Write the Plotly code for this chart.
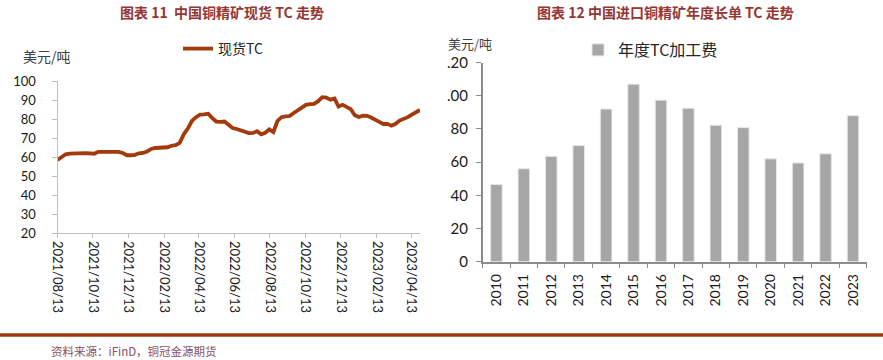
import plotly.graph_objects as go
import pandas as pd

# ---------------- data ----------------
spot_dates = pd.date_range("2021-08-13", periods=90, freq="7D")
spot_tc = [
    58.5, 60.0, 61.5, 61.8, 62.0, 62.0, 62.0, 62.1, 62.0, 61.8,
    62.8, 62.9, 62.9, 62.9, 63.0, 62.8, 62.2, 61.0, 61.0, 61.2,
    62.0, 62.2, 63.0, 64.3, 64.8, 64.9, 65.0, 65.2, 66.0, 66.3,
    67.5, 72.0, 75.0, 79.0, 81.0, 82.3, 82.5, 82.8, 80.5, 78.7,
    78.5, 78.7, 77.0, 75.3, 74.8, 74.2, 73.2, 72.6, 72.7, 73.6,
    72.0, 72.8, 74.6, 73.2, 79.0, 81.0, 81.4, 81.6, 83.2, 84.5,
    86.0, 87.5, 87.9, 88.0, 89.4, 91.5, 91.3, 90.2, 90.8, 86.6,
    87.5, 86.3, 85.2, 82.0, 81.1, 81.8, 81.7, 80.8, 79.9, 78.5,
    77.4, 77.5, 76.5, 77.5, 79.2, 80.0, 81.0, 82.3, 83.8, 84.8,
]
spot_tick_dates = ["2021-08-13", "2021-10-13", "2021-12-13", "2022-02-13",
                   "2022-04-13", "2022-06-13", "2022-08-13", "2022-10-13",
                   "2022-12-13", "2023-02-13", "2023-04-13"]
spot_tick_labels = ["2021/08/13", "2021/10/13", "2021/12/13", "2022/02/13",
                    "2022/04/13", "2022/06/13", "2022/08/13", "2022/10/13",
                    "2022/12/13", "2023/02/13", "2023/04/13"]
left_y_ticks = [20, 30, 40, 50, 60, 70, 80, 90, 100]

years = ["2010", "2011", "2012", "2013", "2014", "2015", "2016",
         "2017", "2018", "2019", "2020", "2021", "2022", "2023"]
annual_tc = [46.5, 56, 63.5, 70, 92, 107, 97.35, 92.5, 82.25, 80.8, 62, 59.5, 65, 88]
right_y_tick_vals = [0, 20, 40, 60, 80, 100, 120]
right_y_tick_text = ["0", "20", "40", "60", "80", ".00", ".20"]

title_left = "图表 11  中国铜精矿现货 TC 走势"
title_right = "图表 12 中国进口铜精矿年度长单 TC 走势"
unit_text = "美元/吨"
source_text = "资料来源：iFinD，铜冠金源期货"

# ---------------- style ----------------
W, H = 883, 360
LINE_COLOR = "#A33A0B"
BAR_COLOR = "#A6A6A6"
TITLE_COLOR = "#943634"
TICK_FONT = dict(family="Lato, 'Noto Sans CJK SC'", size=13, color="#1A1A1A")
CJK = "'Noto Sans CJK SC', 'Noto Sans'"


def px_x(p):
    return p / W


def px_y(p):
    return 1 - p / H


fig = go.Figure()

fig.add_trace(go.Scatter(
    x=spot_dates, y=spot_tc, mode="lines", name="现货TC",
    line=dict(color=LINE_COLOR, width=3.8),
    xaxis="x", yaxis="y", legend="legend",
))

fig.add_trace(go.Bar(
    x=years, y=annual_tc, name="年度TC加工费",
    marker=dict(color=BAR_COLOR, line=dict(color="#E6E6E6", width=1)),
    width=0.42, xaxis="x2", yaxis="y2", legend="legend2",
))

fig.update_layout(
    width=W, height=H,
    margin=dict(l=0, r=0, t=0, b=0),
    paper_bgcolor="white", plot_bgcolor="white",
    showlegend=True,
    xaxis=dict(
        type="date", domain=[px_x(57.5), px_x(420)], automargin=False,
        range=[spot_dates[0], spot_dates[-1]],
        tickmode="array", tickvals=spot_tick_dates, ticktext=spot_tick_labels,
        tickangle=90, ticks="outside", ticklen=4, tickcolor="#BFBFBF",
        showline=True, linecolor="#BFBFBF", linewidth=1,
        showgrid=False, zeroline=False, tickfont=TICK_FONT,
    ),
    yaxis=dict(
        domain=[px_y(233.3), px_y(81)], range=[20, 100], automargin=False,
        tickmode="array", tickvals=left_y_ticks,
        ticks="outside", ticklen=5, tickcolor="#BFBFBF",
        showline=True, linecolor="#BFBFBF", linewidth=1,
        showgrid=False, zeroline=False, tickfont=TICK_FONT,
        ticklabelstandoff=13,
    ),
    xaxis2=dict(
        anchor="y2", domain=[px_x(482.7), px_x(866.7)], automargin=False,
        type="category", range=[-0.5, 13.5],
        tickangle=-90, ticks="outside", ticklen=5, tickcolor="#8C8C8C",
        tickson="boundaries",
        showline=True, linecolor="#8C8C8C", linewidth=1.5,
        showgrid=False, zeroline=False,
        tickfont=dict(family="Lato", size=14, color="#1A1A1A"),
        ticklabelstandoff=5,
    ),
    yaxis2=dict(
        anchor="x2", domain=[px_y(261.7), px_y(62.6)], range=[0, 120], automargin=False,
        tickmode="array", tickvals=right_y_tick_vals, ticktext=right_y_tick_text,
        ticks="outside", ticklen=5, tickcolor="#8C8C8C",
        showline=True, linecolor="#8C8C8C", linewidth=1.5,
        showgrid=False, zeroline=False,
        tickfont=dict(family="Lato", size=15, color="#1A1A1A"),
        ticklabelstandoff=5,
    ),
    legend=dict(
        x=px_x(178), y=px_y(49), xanchor="left", yanchor="middle",
        bgcolor="rgba(0,0,0,0)", font=dict(family=CJK, size=14, color="#262626"),
        itemwidth=30,
    ),
    legend2=dict(
        x=px_x(578), y=px_y(50), xanchor="left", yanchor="middle",
        bgcolor="rgba(0,0,0,0)", font=dict(family=CJK, size=16, color="#262626"),
        itemwidth=30,
    ),
    bargap=0.58,
)

annotations = [
    dict(text=f"<b>{title_left}</b>", x=px_x(222), y=px_y(12), xref="paper", yref="paper",
         xanchor="center", yanchor="middle", showarrow=False,
         font=dict(family=CJK, size=14, color=TITLE_COLOR)),
    dict(text=f"<b>{title_right}</b>", x=px_x(665), y=px_y(12), xref="paper", yref="paper",
         xanchor="center", yanchor="middle", showarrow=False,
         font=dict(family=CJK, size=14, color=TITLE_COLOR)),
    dict(text=unit_text, x=px_x(21), y=px_y(56), xref="paper", yref="paper",
         xanchor="left", yanchor="middle", showarrow=False,
         font=dict(family=CJK, size=14, color="#404040")),
    dict(text=unit_text, x=px_x(446), y=px_y(43.5), xref="paper", yref="paper",
         xanchor="left", yanchor="middle", showarrow=False,
         font=dict(family=CJK, size=13, color="#404040")),
    dict(text=source_text, x=px_x(49), y=px_y(351), xref="paper", yref="paper",
         xanchor="left", yanchor="middle", showarrow=False,
         font=dict(family=CJK, size=11.5, color="#8A5060")),
]
fig.update_layout(annotations=annotations)

fig.add_shape(type="line", xref="paper", yref="paper",
              x0=0, x1=1, y0=px_y(335), y1=px_y(335),
              line=dict(color="#9E3A0C", width=3.5))

fig.write_html(
    "out.html",
    config={"displayModeBar": False},
    post_script="document.body.style.margin='0';document.body.style.overflow='hidden';",
)
